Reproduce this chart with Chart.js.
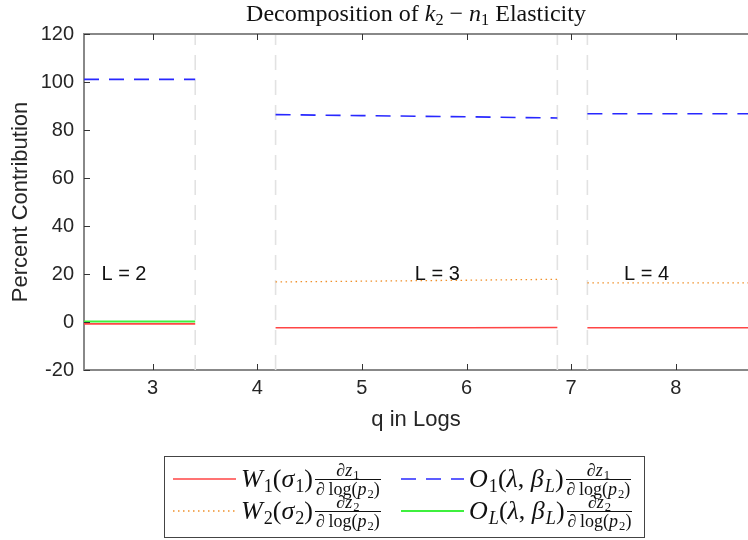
<!DOCTYPE html>
<html>
<head>
<meta charset="utf-8">
<script src="https://cdn.jsdelivr.net/npm/chart.js@4"></script>
<style>
  html, body { margin: 0; padding: 0; background: #fff; }
  #wrap { position: relative; width: 748px; height: 540px; overflow: hidden; }
  #title {
    position: absolute; left: 84px; width: 664px; top: 0px;
    text-align: center; font: 24px "Liberation Serif", serif; color: #111;
  }
  #title sub { font-size: 68%; vertical-align: -0.25em; line-height: 0; }
  .leg sub { font-size: 70%; vertical-align: -0.3em; line-height: 0; margin-left: 1px; }
  .leg {
    position: absolute; left: 164px; top: 456px; width: 481px; height: 82px;
    border: 1.5px solid #444; box-sizing: border-box;
  }
  .item {
    position: absolute; height: 34px; display: flex; align-items: center;
    font: 26px "Liberation Serif", serif; color: #111; white-space: nowrap;
  }
  .item svg { margin-right: 5px; }
  .mt { display: inline-block; }
  .frac {
    display: inline-flex; flex-direction: column; align-items: center;
    font-size: 18px; line-height: 16px; margin-left: 3px;
  }
  .frac sub { font-size: 70%; vertical-align: -0.3em; }
  .frac .num { border-bottom: 1px solid #111; padding: 0 1px 1px; width: 100%; text-align: center; }
  .frac .den { padding-top: 1px; }
</style>
</head>
<body>
<div id="wrap">
  <canvas id="chart" width="748" height="540"></canvas>
  <div id="title">Decomposition of <i>k</i><sub>2</sub> &minus; <i>n</i><sub>1</sub> Elasticity</div>
  <div class="leg" id="legend"></div>
</div>
<script>
/* ============================================================
   DATA
============================================================ */
// regime switches (gray dashed verticals)
const breaks = [3.407, 4.175, 6.868, 7.155];

// q grid per regime
const qL2 = [2.344, 3.407];
const qL3 = [4.175, 5, 6, 6.868];
const qL4 = [7.155, 8, 8.69];

// W1(sigma1) dz1/dlog(p2)
const w1L2 = [-0.8, -0.8];
const w1L3 = [-2.4, -2.4, -2.4, -2.3];
const w1L4 = [-2.4, -2.4, -2.4];

// W2(sigma2) dz2/dlog(p2)
const w2L3 = [16.7, 17.0, 17.4, 17.8];
const w2L4 = [16.3, 16.3, 16.3];

// O1(lambda, betaL) dz1/dlog(p2)
const o1L2 = [101.1, 101.1];
const o1L3 = [86.4, 86.0, 85.5, 85.0];
const o1L4 = [86.8, 86.8, 86.8];

// OL(lambda, betaL) dz2/dlog(p2)
const oLL2 = [0.2, 0.2];

const regimeLabels = ["L = 2", "L = 3", "L = 4"];
const regimeLabelX = [2.726, 5.72, 7.72];
const regimeLabelY = [19.6, 19.8, 19.6];

const xTicks = [3, 4, 5, 6, 7, 8];
const yMin = -20, yMax = 120;

/* ============================================================
   HELPERS
============================================================ */
const pts = (xs, ys) => xs.map((x, i) => ({ x, y: ys[i] }));
// join segments with a null point so the line breaks
const join = (...segs) => {
  const out = [];
  segs.forEach((s, i) => {
    if (i > 0) out.push({ x: s[0].x - 0.01, y: null });
    out.push(...s);
  });
  return out;
};

const vlines = join(...breaks.map((b) => pts([b, b], [yMin, yMax])));

/* ============================================================
   PLUGIN: inward ticks, top border, regime labels
============================================================ */
const matlabAxes = {
  id: "matlabAxes",
  afterDatasetsDraw(chart) {
    const { ctx, chartArea: a, scales: { x, y } } = chart;
    ctx.save();
    ctx.strokeStyle = "#888";
    ctx.lineWidth = 2;
    ctx.beginPath();
    ctx.moveTo(a.left, a.top);
    ctx.lineTo(a.right + 2, a.top);
    ctx.stroke();

    ctx.strokeStyle = "#333";
    ctx.lineWidth = 1;
    ctx.beginPath();
    xTicks.forEach((v) => {
      const px = Math.round(x.getPixelForValue(v)) + 0.5;
      ctx.moveTo(px, a.bottom);
      ctx.lineTo(px, a.bottom - 6);
      ctx.moveTo(px, a.top);
      ctx.lineTo(px, a.top + 6);
    });
    y.ticks.forEach((t) => {
      const py = Math.round(y.getPixelForValue(t.value)) + 0.5;
      ctx.moveTo(a.left, py);
      ctx.lineTo(a.left + 6, py);
    });
    ctx.stroke();

    ctx.fillStyle = "#111";
    ctx.font = '20px "Liberation Sans", Arial, sans-serif';
    ctx.textAlign = "center";
    ctx.textBaseline = "middle";
    regimeLabels.forEach((t, i) => {
      ctx.fillText(t, x.getPixelForValue(regimeLabelX[i]), y.getPixelForValue(regimeLabelY[i]));
    });
    ctx.restore();
  },
};

/* ============================================================
   CHART
============================================================ */
const font = { family: '"Liberation Sans", Arial, sans-serif' };

new Chart(document.getElementById("chart"), {
  type: "line",
  data: {
    datasets: [
      {
        label: "W1",
        data: join(pts(qL2, w1L2), pts(qL3, w1L3), pts(qL4, w1L4)),
        borderColor: "#ff4545",
        borderWidth: 1.6,
        order: 1,
      },
      {
        label: "O1",
        data: join(pts(qL2, o1L2), pts(qL3, o1L3), pts(qL4, o1L4)),
        borderColor: "#2828ff",
        borderWidth: 1.6,
        borderDash: [15, 10],
        order: 2,
      },
      {
        label: "W2",
        data: join(pts(qL3, w2L3), pts(qL4, w2L4)),
        borderColor: "#f0902a",
        borderWidth: 1.3,
        borderDash: [1.5, 3.5],
        order: 3,
      },
      {
        label: "OL",
        data: pts(qL2, oLL2),
        borderColor: "#3ef03e",
        borderWidth: 2,
        order: 4,
      },
      {
        label: "breaks",
        data: vlines,
        borderColor: "#e2e2e2",
        borderWidth: 1.6,
        borderDash: [15, 10],
        order: 9,
      },
    ],
  },
  options: {
    responsive: false,
    animation: false,
    spanGaps: false,
    elements: { point: { radius: 0 }, line: { tension: 0, fill: false } },
    layout: { padding: { top: 34, right: 0, bottom: 106, left: 0 } },
    plugins: { legend: { display: false }, tooltip: { enabled: false } },
    scales: {
      x: {
        type: "linear",
        min: 2.344,
        max: 8.69,
        afterFit: (s) => { s.height = 64; },
        afterBuildTicks: (s) => { s.ticks = xTicks.map((v) => ({ value: v })); },
        grid: { display: false, drawTicks: false },
        border: { display: true, color: "#888", width: 2 },
        ticks: { color: "#262626", padding: 6, font: { ...font, size: 20 } },
        title: {
          display: true,
          text: "q in Logs",
          color: "#262626",
          padding: { top: 0, bottom: 1 },
          font: { ...font, size: 22 },
        },
      },
      y: {
        min: yMin,
        max: yMax,
        afterFit: (s) => { s.width = 84; },
        grid: { display: false, drawTicks: false },
        border: { display: true, color: "#888", width: 2 },
        ticks: { stepSize: 20, color: "#262626", padding: 10, font: { ...font, size: 20 } },
        title: {
          display: true,
          text: "Percent Contribution",
          color: "#262626",
          padding: { top: 8, bottom: 0 },
          font: { ...font, size: 22 },
        },
      },
    },
  },
  plugins: [matlabAxes],
});

/* ============================================================
   LEGEND (math labels as HTML)
============================================================ */
const frac = (num, den) =>
  `<span class="frac"><span class="num">${num}</span><span class="den">${den}</span></span>`;
const dz = (k) => `&part;<i>z</i><sub>${k}</sub>`;
const dlog = `&part;&thinsp;log(<i>p</i><sub>2</sub>)`;

const legendItems = [
  { left: 8, top: 22, stroke: "#ff4545", dash: "", w: 1.6,
    html: `<i>W</i><sub>1</sub>(<i>&sigma;</i><sub>1</sub>)`, k: 1 },
  { left: 236, top: 22, stroke: "#2828ff", dash: "15 10", w: 1.6,
    html: `<i>O</i><sub>1</sub>(<i>&lambda;</i>, <i>&beta;</i><sub><i>L</i></sub>)`, k: 1 },
  { left: 8, top: 54, stroke: "#f0902a", dash: "1.5 3.5", w: 1.3,
    html: `<i>W</i><sub>2</sub>(<i>&sigma;</i><sub>2</sub>)`, k: 2 },
  { left: 236, top: 54, stroke: "#3ef03e", dash: "", w: 2,
    html: `<i>O</i><sub><i>L</i></sub>(<i>&lambda;</i>, <i>&beta;</i><sub><i>L</i></sub>)`, k: 2 },
];

document.getElementById("legend").innerHTML = legendItems
  .map(
    (it) => `
    <div class="item" style="left:${it.left}px;top:${it.top - 17}px">
      <svg width="63" height="6"><line x1="0" y1="3" x2="63" y2="3" stroke="${it.stroke}"
        stroke-width="${it.w}" stroke-dasharray="${it.dash}"/></svg><span class="mt">${it.html}</span>${frac(dz(it.k), dlog)}
    </div>`
  )
  .join("");
</script>
</body>
</html>
